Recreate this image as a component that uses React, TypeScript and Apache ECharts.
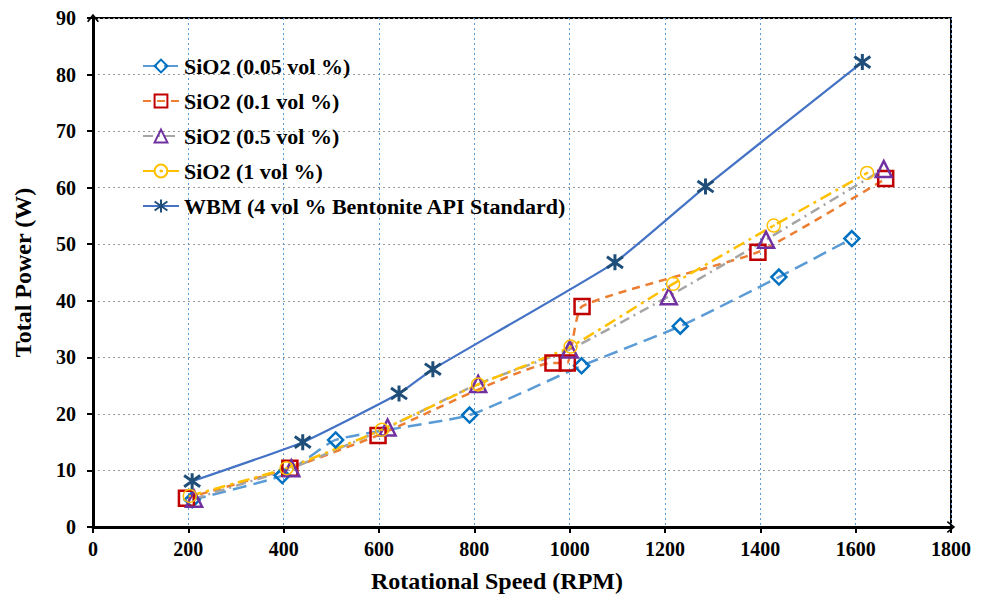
import React, { useEffect, useRef } from "react";
import * as echarts from "echarts";

const seriesNames = [
  "SiO2 (0.05 vol %)",
  "SiO2 (0.1 vol %)",
  "SiO2 (0.5 vol %)",
  "SiO2 (1 vol %)",
  "WBM (4 vol % Bentonite API Standard)",
];

const rpm005 = [208, 397, 509, 790, 1025, 1232, 1439, 1592];
const pow005 = [4.8, 9.1, 15.4, 19.8, 28.5, 35.5, 44.2, 51.0];

const rpm01 = [196, 413, 598, 965, 995, 1026, 1395, 1663];
const pow01 = [5.1, 10.4, 16.2, 29.0, 29.0, 39.0, 48.6, 61.6];

const rpm05 = [212, 416, 618, 808, 1000, 1208, 1412, 1659];
const pow05 = [5.0, 10.4, 17.6, 25.3, 31.4, 40.8, 50.8, 63.3];

const rpm1 = [203, 406, 606, 808, 1002, 1217, 1428, 1624];
const pow1 = [5.5, 10.4, 17.2, 25.2, 31.9, 43.0, 53.3, 62.6];

const rpmWbm = [208, 440, 642, 713, 1095, 1285, 1614];
const powWbm = [8.1, 15.0, 23.6, 27.9, 46.8, 60.2, 82.2];

const xAxisTitle = "Rotational Speed (RPM)";
const yAxisTitle = "Total Power (W)";

const zip = (xs: number[], ys: number[]) => xs.map((x, i) => [x, ys[i]]);

const FONT = "'Liberation Serif', 'Times New Roman', serif";

const asteriskPath = "path://M0,-10L0,10M-8,-7L8,7M8,-7L-8,7";
const dotCirclePath =
  "path://M0,-10A10,10 0 1,1 0,10A10,10 0 1,1 0,-10Z M0,-0.8A0.8,0.8 0 1,1 0,0.8A0.8,0.8 0 1,1 0,-0.8Z";
const chevronPath = "path://M0,0L9,11L7,12.5L0,4L-7,12.5L-9,11Z";

export default function App() {
  const ref = useRef<HTMLDivElement>(null);
  useEffect(() => {
    if (!ref.current) return;
    const chart = echarts.init(ref.current, null, { renderer: "svg" });
    const option: any = {
      animation: false,
      backgroundColor: "#fff",
      grid: {
        left: 93,
        right: 35,
        top: 18,
        bottom: 70,
        show: true,
        borderColor: "#000",
        borderWidth: 2,
      },
      legend: {
        orient: "vertical",
        left: 137,
        top: 50,
        itemWidth: 36,
        itemHeight: 16,
        itemGap: 13,
        data: seriesNames,
        textStyle: { fontFamily: FONT, fontSize: 22, fontWeight: "bold", color: "#000" },
      },
      xAxis: {
        type: "value",
        min: 0,
        max: 1800,
        interval: 200,
        name: xAxisTitle,
        nameLocation: "middle",
        nameGap: 42,
        nameTextStyle: {
          fontFamily: FONT,
          fontSize: 24,
          fontWeight: "bold",
          color: "#000",
          padding: [0, 50, 0, 0],
        },
        axisLine: {
          show: true,
          lineStyle: { color: "#000", width: 3 },
          symbol: ["none", chevronPath],
          symbolSize: [12, 12],
        },
        axisTick: { show: true, inside: false, length: 6, lineStyle: { color: "#000", width: 2 } },
        axisLabel: {
          margin: 12,
          fontFamily: FONT,
          fontSize: 20,
          fontWeight: "bold",
          color: "#000",
          formatter: (v: number) => String(v),
        },
        splitLine: { show: true, lineStyle: { color: "#5B9BD5", type: [2, 3], width: 1 } },
      },
      yAxis: {
        type: "value",
        min: 0,
        max: 90,
        interval: 10,
        name: yAxisTitle,
        nameLocation: "middle",
        nameGap: 58,
        nameTextStyle: { fontFamily: FONT, fontSize: 24, fontWeight: "bold", color: "#000" },
        axisLine: {
          show: true,
          lineStyle: { color: "#000", width: 3 },
          symbol: ["none", chevronPath],
          symbolSize: [12, 12],
        },
        axisTick: { show: true, inside: false, length: 6, lineStyle: { color: "#000", width: 2 } },
        axisLabel: {
          margin: 17,
          fontFamily: FONT,
          fontSize: 20,
          fontWeight: "bold",
          color: "#000",
          formatter: (v: number) => String(v),
        },
        splitLine: { show: true, lineStyle: { color: "#999", type: [2, 3], width: 1 } },
      },
      series: [
        {
          name: seriesNames[0],
          type: "line",
          smooth: 0.15,
          data: zip(rpm005, pow005),
          symbol: "diamond",
          symbolSize: 15,
          lineStyle: { color: "#5B9BD5", width: 2.5, type: [14, 7] },
          itemStyle: { color: "transparent", borderColor: "#0070C0", borderWidth: 2.5 },
        },
        {
          name: seriesNames[1],
          type: "line",
          smooth: 0.15,
          data: zip(rpm01, pow01),
          symbol: "rect",
          symbolSize: 15,
          lineStyle: { color: "#ED7D31", width: 2.5, type: [8, 6] },
          itemStyle: { color: "transparent", borderColor: "#C00000", borderWidth: 2.5 },
        },
        {
          name: seriesNames[2],
          type: "line",
          smooth: 0.15,
          data: zip(rpm05, pow05),
          symbol: "triangle",
          symbolSize: 16,
          lineStyle: { color: "#A5A5A5", width: 2.5, type: [10, 5, 2, 5] },
          itemStyle: { color: "transparent", borderColor: "#7030A0", borderWidth: 2.5 },
        },
        {
          name: seriesNames[3],
          type: "line",
          smooth: 0.15,
          data: zip(rpm1, pow1),
          symbol: dotCirclePath,
          symbolSize: 13,
          lineStyle: { color: "#FFC000", width: 2.5, type: [12, 5, 3, 5] },
          itemStyle: { color: "transparent", borderColor: "#FFC000", borderWidth: 1.5 },
        },
        {
          name: seriesNames[4],
          type: "line",
          smooth: 0.15,
          data: zip(rpmWbm, powWbm),
          symbol: asteriskPath,
          symbolSize: 16,
          lineStyle: { color: "#4472C4", width: 2.2, type: "solid" },
          itemStyle: { color: "transparent", borderColor: "#1F4E79", borderWidth: 3 },
        },
      ],
    };
    chart.setOption(option);
    return () => chart.dispose();
  }, []);
  return (
    <div
      ref={ref}
      style={{ position: "absolute", left: 0, top: 0, width: 986, height: 598 }}
    />
  );
}
